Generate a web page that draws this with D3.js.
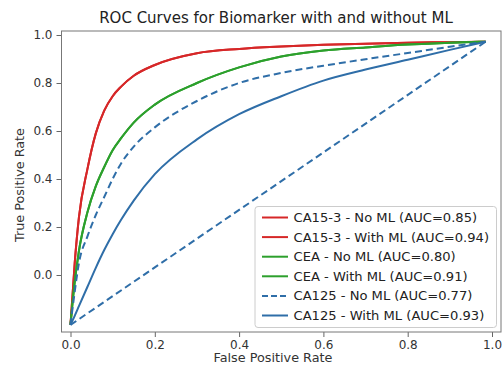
<!DOCTYPE html>
<html>
<head>
<meta charset="utf-8">
<script src="https://cdn.jsdelivr.net/npm/d3@7"></script>
<style>
  html, body { margin: 0; padding: 0; background: #fff; }
  svg { display: block; font-family: "DejaVu Sans", sans-serif; }
</style>
</head>
<body>
<svg id="chart" width="503" height="367"></svg>
<script>
// ---- data ----
const fpr = [0, 0.01, 0.02, 0.04, 0.06, 0.08, 0.10, 0.12, 0.15, 0.20, 0.30, 0.40, 0.50, 0.60, 0.70, 0.80, 0.90, 0.985];
const ca153NoML   = [-0.208, 0.05, 0.24, 0.44, 0.59, 0.685, 0.745, 0.785, 0.83, 0.875, 0.924, 0.942, 0.952, 0.959, 0.964, 0.968, 0.970, 0.972];
const ca153WithML = [-0.208, 0.05, 0.24, 0.44, 0.59, 0.685, 0.745, 0.785, 0.83, 0.875, 0.924, 0.942, 0.952, 0.959, 0.964, 0.968, 0.970, 0.972];
const ceaNoML     = [-0.208, -0.03, 0.10, 0.26, 0.37, 0.45, 0.52, 0.57, 0.635, 0.71, 0.80, 0.865, 0.91, 0.935, 0.948, 0.960, 0.968, 0.972];
const ceaWithML   = [-0.208, -0.03, 0.10, 0.26, 0.37, 0.45, 0.52, 0.57, 0.635, 0.71, 0.80, 0.865, 0.91, 0.935, 0.948, 0.960, 0.968, 0.972];
const ca125NoML   = [-0.208, -0.07, 0.05, 0.16, 0.25, 0.325, 0.40, 0.465, 0.535, 0.615, 0.725, 0.80, 0.842, 0.872, 0.899, 0.925, 0.951, 0.972];
const ca125WithML = [-0.208, -0.17, -0.13, -0.05, 0.03, 0.104, 0.17, 0.23, 0.31, 0.42, 0.565, 0.67, 0.745, 0.81, 0.856, 0.897, 0.938, 0.972];
const diagX = [0, 0.985];
const diagY = [-0.208, 0.972];

const seriesNames = [
  "CA15-3 - No ML (AUC=0.85)",
  "CA15-3 - With ML (AUC=0.94)",
  "CEA - No ML (AUC=0.80)",
  "CEA - With ML (AUC=0.91)",
  "CA125 - No ML (AUC=0.77)",
  "CA125 - With ML (AUC=0.93)"
];
const seriesValues = [ca153NoML, ca153WithML, ceaNoML, ceaWithML, ca125NoML, ca125WithML];
const seriesColors = ["#d62728", "#d62728", "#2ca02c", "#2ca02c", "#2f6ea8", "#2f6ea8"];
const seriesDashed = [false, false, false, false, true, false];
const tickVals = [0.0, 0.2, 0.4, 0.6, 0.8, 1.0];

const titleText = "ROC Curves for Biomarker with and without ML";
const xLabel = "False Positive Rate";
const yLabel = "True Positive Rate";

// ---- layout ----
const plot = { left: 61.5, right: 501, top: 31, bottom: 332 };
const x = d3.scaleLinear().domain([0, 1]).range([70.5, 492]);
const y = d3.scaleLinear().domain([0, 1]).range([275, 35]);

const svg = d3.select("#chart");

// title
svg.append("text")
  .attr("x", 276)
  .attr("y", 23)
  .attr("text-anchor", "middle")
  .attr("font-size", 15)
  .attr("fill", "#222")
  .text(titleText);

// axes
const yAxis = d3.axisLeft(y).tickValues(tickVals).tickFormat(d3.format(".1f")).tickSize(5).tickPadding(4);
const xAxis = d3.axisBottom(x).tickValues(tickVals).tickFormat(d3.format(".1f")).tickSize(5).tickPadding(3);

const gy = svg.append("g").attr("transform", `translate(${plot.left},0)`).call(yAxis);
const gx = svg.append("g").attr("transform", `translate(0,${plot.bottom})`).call(xAxis);
[gx, gy].forEach(g => {
  g.select(".domain").remove();
  g.selectAll(".tick line").attr("stroke", "#666");
  g.selectAll(".tick text").attr("font-size", 12).attr("fill", "#333").attr("font-family", "DejaVu Sans, sans-serif");
});

// axis labels
svg.append("text")
  .attr("x", 273)
  .attr("y", 362)
  .attr("text-anchor", "middle")
  .attr("font-size", 12.8)
  .attr("fill", "#333")
  .text(xLabel);

svg.append("text")
  .attr("transform", `translate(24,${185}) rotate(-90)`)
  .attr("text-anchor", "middle")
  .attr("font-size", 12.8)
  .attr("fill", "#333")
  .text(yLabel);

// curves
const line = d3.line()
  .x(d => x(d[0]))
  .y(d => y(d[1]))
  .curve(d3.curveMonotoneX);

const curves = svg.append("g");
seriesValues.forEach((vals, i) => {
  curves.append("path")
    .datum(fpr.map((f, j) => [f, vals[j]]))
    .attr("d", line)
    .attr("fill", "none")
    .attr("stroke", seriesColors[i])
    .attr("stroke-width", 2)
    .attr("stroke-dasharray", seriesDashed[i] ? "7,4" : null);
});
curves.append("path")
  .datum(diagX.map((f, j) => [f, diagY[j]]))
  .attr("d", d3.line().x(d => x(d[0])).y(d => y(d[1])))
  .attr("fill", "none")
  .attr("stroke", "#2f6ea8")
  .attr("stroke-width", 2)
  .attr("stroke-dasharray", "7,4");

// frame
svg.append("rect")
  .attr("x", plot.left).attr("y", plot.top)
  .attr("width", plot.right - plot.left)
  .attr("height", plot.bottom - plot.top)
  .attr("fill", "none")
  .attr("stroke", "#777")
  .attr("stroke-width", 1);

// legend
const leg = svg.append("g");
const legBox = { x: 255, y: 206.5, w: 241.5, h: 121 };
leg.append("rect")
  .attr("x", legBox.x).attr("y", legBox.y)
  .attr("width", legBox.w).attr("height", legBox.h)
  .attr("rx", 3)
  .attr("fill", "#fff").attr("fill-opacity", 0.85)
  .attr("stroke", "#ccc");
seriesNames.forEach((name, i) => {
  const cy = 217.5 + i * 19.6;
  leg.append("line")
    .attr("x1", 262).attr("x2", 288)
    .attr("y1", cy).attr("y2", cy)
    .attr("stroke", seriesColors[i])
    .attr("stroke-width", 2)
    .attr("stroke-dasharray", seriesDashed[i] ? "6,3" : null);
  leg.append("text")
    .attr("x", 293.5)
    .attr("y", cy)
    .attr("dy", "0.35em")
    .attr("font-size", 13.1)
    .attr("fill", "#222")
    .text(name);
});
</script>
</body>
</html>
